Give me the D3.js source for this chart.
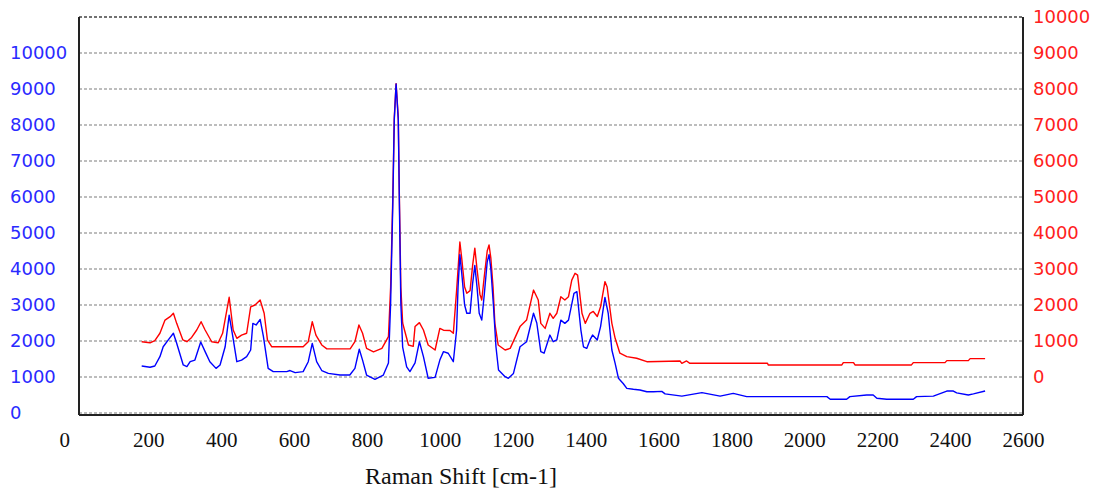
<!DOCTYPE html>
<html>
<head>
<meta charset="utf-8">
<script src="https://cdn.jsdelivr.net/npm/d3@7/dist/d3.min.js"></script>
<style>
  html, body { margin: 0; padding: 0; background: #fff; }
  svg { display: block; }
</style>
</head>
<body>
<svg id="chart" width="1094" height="492"></svg>
<script>
// ---- Data ----
const xTicks = [0, 200, 400, 600, 800, 1000, 1200, 1400, 1600, 1800, 2000, 2200, 2400, 2600];
const leftTicks = [0, 1000, 2000, 3000, 4000, 5000, 6000, 7000, 8000, 9000, 10000];
const rightTicks = [0, 1000, 2000, 3000, 4000, 5000, 6000, 7000, 8000, 9000, 10000];
const xTitle = "Raman Shift [cm-1]";

// Blue spectrum (left axis)
const blueShift = [182,205,218,232,241,255,269,278,296,306,315,328,344,356,369,386,397,411,422,432,443,456,470,481,487,496,507,516,529,543,580,589,603,625,639,650,662,676,694,726,753,767,779,788,799,822,845,859,865,871,875,880,886,889,893,898,909,918,932,944,955,968,987,1000,1010,1023,1037,1046,1050,1055,1060,1068,1074,1083,1090,1096,1102,1108,1115,1122,1130,1135,1140,1147,1154,1161,1179,1188,1202,1220,1238,1257,1266,1277,1286,1302,1311,1321,1332,1343,1353,1368,1376,1387,1394,1403,1412,1419,1432,1441,1453,1462,1472,1481,1490,1503,1513,1531,1549,1568,1586,1609,1618,1664,1719,1769,1805,1842,2062,2071,2116,2125,2171,2189,2199,2226,2299,2308,2354,2391,2409,2418,2450,2464,2496];
const blueIntensity = [1305,1270,1305,1565,1840,2030,2215,1935,1335,1290,1425,1470,1970,1705,1425,1240,1335,1840,2720,2120,1425,1470,1565,1750,2490,2445,2600,2120,1240,1150,1150,1180,1120,1150,1425,1935,1425,1180,1100,1055,1055,1240,1770,1470,1055,935,1055,1390,3050,5830,8140,9140,8140,5830,3050,1830,1280,1150,1390,1980,1565,965,990,1470,1705,1660,1425,2305,3500,4400,3900,3000,2770,2770,3600,4100,3500,2770,2580,3300,4200,4400,4000,3000,1840,1195,1010,965,1100,1840,1980,2770,2500,1705,1660,2165,1980,2030,2580,2490,2580,3325,3370,2305,1840,1795,2030,2165,2030,2400,3210,2770,1750,1380,965,820,685,660,640,590,590,600,530,470,565,470,545,455,455,380,380,455,500,500,410,380,380,455,470,610,610,560,500,530,610];

// Red spectrum (right axis)
const redShift = [182,205,218,232,246,260,269,278,295,306,319,333,345,356,374,392,404,422,433,443,456,470,481,493,507,518,527,539,625,639,650,660,676,690,754,767,778,788,799,818,841,859,865,871,875,880,886,889,893,898,903,914,927,932,944,955,968,987,1000,1010,1028,1037,1046,1055,1060,1068,1074,1083,1090,1096,1102,1110,1115,1122,1130,1135,1140,1146,1151,1160,1179,1193,1220,1238,1257,1270,1277,1289,1302,1311,1321,1332,1343,1353,1362,1371,1378,1390,1399,1412,1421,1432,1441,1453,1459,1472,1481,1494,1513,1540,1568,1659,1664,1677,1686,1899,1901,2103,2107,2135,2139,2294,2299,2386,2391,2450,2455,2496];
const redIntensity = [980,950,1010,1215,1580,1675,1770,1490,1030,980,1100,1305,1535,1305,980,950,1215,2215,1305,1075,1165,1215,1950,2000,2140,1770,1030,840,840,980,1535,1165,890,780,780,980,1445,1215,795,700,795,1120,2500,5000,7200,8150,7200,5000,2500,1500,1305,890,850,1400,1510,1305,890,750,1350,1300,1290,1215,2400,3750,3300,2500,2325,2400,3100,3580,3000,2300,2140,2800,3500,3670,3300,2500,1490,890,750,795,1400,1580,2415,2140,1490,1350,1770,1630,1770,2230,2140,2230,2690,2880,2830,1770,1490,1770,1820,1680,1950,2650,2500,1490,1075,660,565,520,425,445,380,445,380,380,335,335,400,400,335,335,400,400,455,455,510,510];

// ---- Layout ----
const svg = d3.select("#chart");
const plot = { left: 79, right: 1023, top: 17, bottom: 413 };

const x = d3.scaleLinear().domain([10, 2600]).range([plot.left, plot.right]);
const yLeft = d3.scaleLinear().domain([0, 11000]).range([plot.bottom, plot.top]);
const yRight = d3.scaleLinear().domain([-1000, 10000]).range([plot.bottom, plot.top]);

// Gridlines
svg.append("g")
  .selectAll("line")
  .data(leftTicks)
  .join("line")
  .attr("x1", plot.left).attr("x2", plot.right)
  .attr("y1", d => yLeft(d)).attr("y2", d => yLeft(d))
  .attr("stroke", "#a8a8a8")
  .attr("stroke-width", 1.4)
  .attr("stroke-dasharray", "3,2");

// Top border (dotted dark)
svg.append("line")
  .attr("x1", plot.left).attr("x2", plot.right)
  .attr("y1", plot.top).attr("y2", plot.top)
  .attr("stroke", "#444").attr("stroke-width", 1.4)
  .attr("stroke-dasharray", "3,2");

// Lines
const blueData = blueShift.map((s, i) => [s, blueIntensity[i]]);
const redData = redShift.map((s, i) => [s, redIntensity[i]]);

svg.append("path")
  .datum(redData)
  .attr("fill", "none")
  .attr("stroke", "#ff0000")
  .attr("stroke-width", 1.4)
  .attr("stroke-linejoin", "round")
  .attr("d", d3.line().x(d => x(d[0])).y(d => yRight(d[1])));

svg.append("path")
  .datum(blueData)
  .attr("fill", "none")
  .attr("stroke", "#0000ff")
  .attr("stroke-width", 1.4)
  .attr("stroke-linejoin", "round")
  .attr("d", d3.line().x(d => x(d[0])).y(d => yLeft(d[1])));

// Frame: left, right, bottom solid
const frame = svg.append("g").attr("stroke", "#222").attr("stroke-width", 2).attr("fill", "none");
frame.append("line").attr("x1", plot.left).attr("x2", plot.left).attr("y1", plot.top).attr("y2", plot.bottom + 2);
frame.append("line").attr("x1", plot.right).attr("x2", plot.right).attr("y1", plot.top).attr("y2", plot.bottom + 2);
frame.append("line").attr("x1", plot.left).attr("x2", plot.right).attr("y1", plot.bottom + 2).attr("y2", plot.bottom + 2);

// Left axis labels (left-aligned at x=10)
const gL = svg.append("g")
  .attr("transform", "translate(10,0)")
  .call(d3.axisRight(yLeft).tickValues(leftTicks).tickSize(0).tickPadding(0).tickFormat(d3.format("d")));
gL.select(".domain").remove();
gL.selectAll("text")
  .attr("fill", "#2a2aff")
  .style("font-family", "'DejaVu Sans', sans-serif")
  .style("font-size", "18px");

// Right axis labels
const gR = svg.append("g")
  .attr("transform", "translate(1033,0)")
  .call(d3.axisRight(yRight).tickValues(rightTicks).tickSize(0).tickPadding(0).tickFormat(d3.format("d")));
gR.select(".domain").remove();
gR.selectAll("text")
  .attr("fill", "#ff2020")
  .style("font-family", "'DejaVu Sans', sans-serif")
  .style("font-size", "18px");

// Bottom axis labels
const gB = svg.append("g")
  .attr("transform", "translate(0,432)")
  .call(d3.axisBottom(x).tickValues(xTicks).tickSize(0).tickPadding(0).tickFormat(d3.format("d")));
gB.select(".domain").remove();
gB.selectAll("text")
  .attr("fill", "#111")
  .style("font-family", "'Liberation Serif', serif")
  .style("font-size", "21px")
  .attr("dx", d => d === 0 ? -11 : 0);

// Axis title
svg.append("text")
  .attr("x", 461)
  .attr("y", 484)
  .attr("text-anchor", "middle")
  .attr("fill", "#111")
  .style("font-family", "'Liberation Serif', serif")
  .style("font-size", "24px")
  .text(xTitle);
</script>
</body>
</html>
